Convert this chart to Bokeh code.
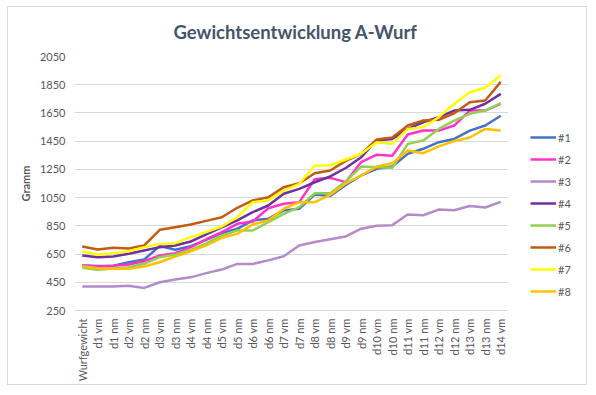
from math import pi
from bokeh.plotting import figure
from bokeh.layouts import row
from bokeh.models import FactorRange, Range1d, FixedTicker, Legend, LegendItem
from bokeh.embed import file_html
from bokeh.resources import INLINE

categories = ["Wurfgewicht", "d1 vm", "d1 nm", "d2 vm", "d2 nm", "d3 vm", "d3 nm",
              "d4 vm", "d4 nm", "d5 vm", "d5 nm", "d6 vm", "d6 nm", "d7 vm", "d7 nm",
              "d8 vm", "d8 nm", "d9 vm", "d9 nm", "d10 vm", "d10 nm", "d11 vm", "d11 nm",
              "d12 vm", "d12 nm", "d13 vm", "d13 nm", "d14 vm"]

s1 = [569, 565, 567, 592, 611, 707, 680, 706, 750, 798, 829, 888, 900, 959, 971, 1072,
      1062, 1140, 1207, 1254, 1270, 1360, 1396, 1443, 1466, 1525, 1561, 1630]
s2 = [569, 562, 567, 576, 599, 640, 656, 699, 755, 805, 864, 880, 975, 1006, 1018, 1180,
      1190, 1160, 1302, 1354, 1347, 1497, 1525, 1525, 1561, 1667, 1667, 1715]
s3 = [420, 420, 420, 425, 410, 450, 470, 485, 515, 540, 580, 580, 605, 635, 710, 735,
      755, 775, 830, 850, 855, 930, 925, 965, 960, 990, 980, 1020]
s4 = [640, 628, 633, 652, 675, 699, 711, 739, 790, 840, 888, 947, 994, 1077, 1112, 1159,
      1200, 1260, 1336, 1455, 1466, 1537, 1584, 1620, 1667, 1672, 1715, 1785]
s5 = [553, 538, 548, 557, 581, 628, 647, 680, 726, 781, 817, 817, 876, 935, 982, 1081,
      1081, 1165, 1270, 1266, 1261, 1431, 1455, 1537, 1596, 1644, 1667, 1720]
s6 = [704, 682, 694, 689, 711, 822, 840, 860, 885, 911, 978, 1030, 1053, 1124, 1152, 1223,
      1242, 1310, 1360, 1462, 1476, 1561, 1596, 1601, 1648, 1726, 1738, 1870]
s7 = [668, 647, 656, 670, 699, 722, 727, 770, 805, 845, 911, 1018, 1030, 1100, 1148, 1278,
      1278, 1320, 1360, 1443, 1431, 1537, 1549, 1620, 1715, 1797, 1828, 1915]
s8 = [564, 550, 545, 545, 562, 592, 633, 670, 711, 765, 793, 860, 888, 971, 1018, 1018,
      1070, 1150, 1207, 1270, 1294, 1384, 1365, 1413, 1450, 1476, 1537, 1525]

series_names = ["#1", "#2", "#3", "#4", "#5", "#6", "#7", "#8"]
series_values = [s1, s2, s3, s4, s5, s6, s7, s8]
series_colors = ["#4472C4", "#FF33CC", "#B48BC8", "#7030A0", "#92D050", "#C55A11", "#FFFF00", "#FFC000"]

y_ticks = [250, 450, 650, 850, 1050, 1250, 1450, 1650, 1850, 2050]

FONT = "Lato"
TXT = "#595959"
NAN = float("nan")

p = figure(width=500, height=377, output_backend="svg", toolbar_location=None,
           x_range=FactorRange(factors=categories, range_padding=0),
           y_range=Range1d(250, 2050),
           min_border_left=66, min_border_right=0, min_border_top=49, min_border_bottom=74)

p.title.text = "Gewichtsentwicklung A-Wurf"
p.title.align = "left"
p.title.offset = 99
p.title.vertical_align = "top"
p.title.standoff = 24
p.title.text_font = FONT
p.title.text_font_size = "18.5px"
p.title.text_font_style = "bold"
p.title.text_color = "#44546A"

for name, vals, col in zip(series_names, series_values, series_colors):
    p.line(x=categories, y=vals, line_width=2.5, line_color=col, line_join="round")

p.outline_line_color = None
p.xgrid.grid_line_color = None
p.ygrid.grid_line_color = "#D9D9D9"
p.ygrid.grid_line_width = 1

p.yaxis.ticker = FixedTicker(ticks=y_ticks)
p.yaxis.axis_line_color = None
p.yaxis.major_tick_line_color = None
p.yaxis.minor_tick_line_color = None
p.yaxis.major_tick_out = 0
p.yaxis.major_tick_in = 0
p.yaxis.minor_tick_out = 0
p.yaxis.major_label_standoff = 9
p.yaxis.major_label_text_font = FONT
p.yaxis.major_label_text_font_size = "11px"
p.yaxis.major_label_text_color = TXT
p.yaxis.axis_label = "Gramm"
p.yaxis.axis_label_text_font = FONT
p.yaxis.axis_label_text_font_size = "11px"
p.yaxis.axis_label_text_font_style = "bold"
p.yaxis.axis_label_text_color = TXT
p.yaxis.axis_label_standoff = 5

p.xaxis.major_label_orientation = pi / 2
p.xaxis.axis_line_color = "#D9D9D9"
p.xaxis.major_tick_line_color = None
p.xaxis.minor_tick_line_color = None
p.xaxis.major_tick_out = 0
p.xaxis.major_tick_in = 0
p.xaxis.minor_tick_out = 0
p.xaxis.major_label_standoff = 8
p.xaxis.major_label_text_font = FONT
p.xaxis.major_label_text_font_size = "11px"
p.xaxis.major_label_text_color = TXT

# legend panel (its frame aligns with the main plot's frame inside the row)
q = figure(width=78, height=377, output_backend="svg", toolbar_location=None,
           x_axis_type=None, y_axis_type=None,
           x_range=Range1d(0, 1), y_range=Range1d(0, 1),
           min_border_left=0, min_border_right=0, min_border_top=0, min_border_bottom=0)
q.outline_line_color = None
q.grid.grid_line_color = None

leg_renderers = []
for name, col in zip(series_names, series_colors):
    leg_renderers.append(q.line(x=[NAN], y=[NAN], line_width=2.5, line_color=col))

legend = Legend(items=[LegendItem(label=n, renderers=[r]) for n, r in zip(series_names, leg_renderers)],
                location=(22, 8))
legend.border_line_color = None
legend.background_fill_alpha = 0
legend.label_text_font = FONT
legend.label_text_font_size = "11px"
legend.label_text_color = TXT
legend.glyph_width = 26
legend.glyph_height = 22
legend.label_height = 22
legend.label_width = 0
legend.spacing = 0
legend.padding = 0
legend.margin = 0
legend.label_standoff = 2
q.add_layout(legend)

layout = row(p, q, spacing=0)
layout.styles = {"outline": "1px solid #D9D9D9", "margin-left": "8px", "margin-top": "7px"}

open("out.html", "w").write(file_html(layout, INLINE))
